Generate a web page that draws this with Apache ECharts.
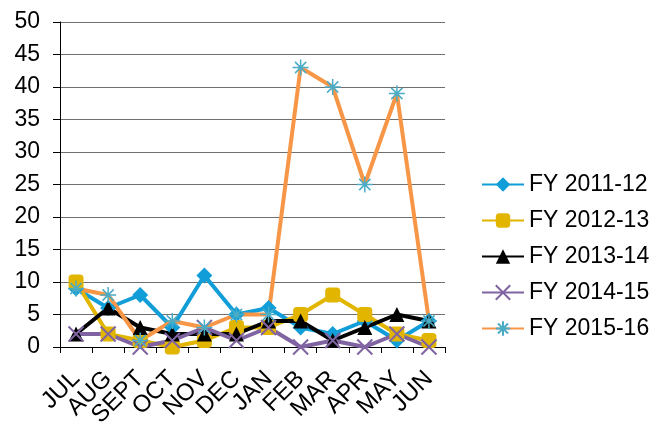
<!DOCTYPE html>
<html>
<head>
<meta charset="utf-8">
<script src="https://cdn.jsdelivr.net/npm/echarts@6/dist/echarts.min.js"></script>
<style>
  html, body { margin: 0; padding: 0; background: #fff; }
  #chart { width: 668px; height: 432px; }
</style>
</head>
<body>
<div id="chart"></div>
<script>
// months of the financial year
const months = ["JUL", "AUG", "SEPT", "OCT", "NOV", "DEC", "JAN", "FEB", "MAR", "APR", "MAY", "JUN"];

// values per year
const fy1112 = [9, 6, 8, 3, 11, 5, 6, 3, 2, 4, 1, 4];
const fy1213 = [10, 2, 1, 0, 1, 3, 3, 5, 8, 5, 2, 1];
const fy1314 = [2, 6, 3, 2, 2, 2, 4, 4, 1, 3, 5, 4];
const fy1415 = [2, 2, 0, 1, 3, 1, 3, 0, 1, 0, 2, 0];
const fy1516 = [9, 8, 1, 4, 3, 5, 5, 43, 40, 25, 39, 4];

const crossPath = "path://M0,0L10,10M10,0L0,10";
const starPath = "path://M5,0L5,10M0,5L10,5M1.5,1.5L8.5,8.5M8.5,1.5L1.5,8.5";

const chart = echarts.init(document.getElementById("chart"));

function line(name, data, color, symbol, size, markerStyle) {
  return {
    name: name,
    type: "line",
    data: data,
    symbol: symbol,
    symbolSize: size,
    symbolKeepAspect: true,
    showAllSymbol: true,
    lineStyle: { color: color, width: 4 },
    itemStyle: markerStyle || { color: color },
    emphasis: { disabled: true },
    animation: false
  };
}

const option = {
  textStyle: { fontFamily: "Liberation Sans, Arial, sans-serif" },
  grid: { left: 60, right: 223, top: 22, bottom: 85 },
  legend: {
    orient: "vertical",
    left: 476,
    top: 168,
    itemWidth: 42,
    itemHeight: 18,
    itemGap: 13,
    textStyle: { fontSize: 23, lineHeight: 23, color: "#000" },
    data: ["FY 2011-12", "FY 2012-13", "FY 2013-14", "FY 2014-15", "FY 2015-16"]
  },
  xAxis: {
    type: "category",
    data: months,
    boundaryGap: true,
    axisLine: { lineStyle: { color: "#000", width: 1 } },
    axisTick: { show: true, length: 6, lineStyle: { color: "#000" } },
    axisLabel: { rotate: 45, fontSize: 24, color: "#000", margin: 28, interval: 0 }
  },
  yAxis: {
    type: "value",
    min: 0,
    max: 50,
    interval: 5,
    axisLine: { show: true, lineStyle: { color: "#000", width: 1 } },
    axisTick: { show: true, length: 7, lineStyle: { color: "#000" } },
    axisLabel: { fontSize: 23, color: "#000", margin: 20 },
    splitLine: { lineStyle: { color: "#6f6f6f", width: 1 } }
  },
  series: [
    line("FY 2011-12", fy1112, "#119ed8", "diamond", 16),
    line("FY 2012-13", fy1213, "#e2b600", "roundRect", 15),
    line("FY 2013-14", fy1314, "#000000", "triangle", 15),
    line("FY 2014-15", fy1415, "#8064a2", crossPath, 15,
      { color: "none", borderColor: "#8064a2", borderWidth: 2 }),
    line("FY 2015-16", fy1516, "#f79646", starPath, 16,
      { color: "none", borderColor: "#4bacc6", borderWidth: 1.5 })
  ]
};

chart.setOption(option);
</script>
</body>
</html>
